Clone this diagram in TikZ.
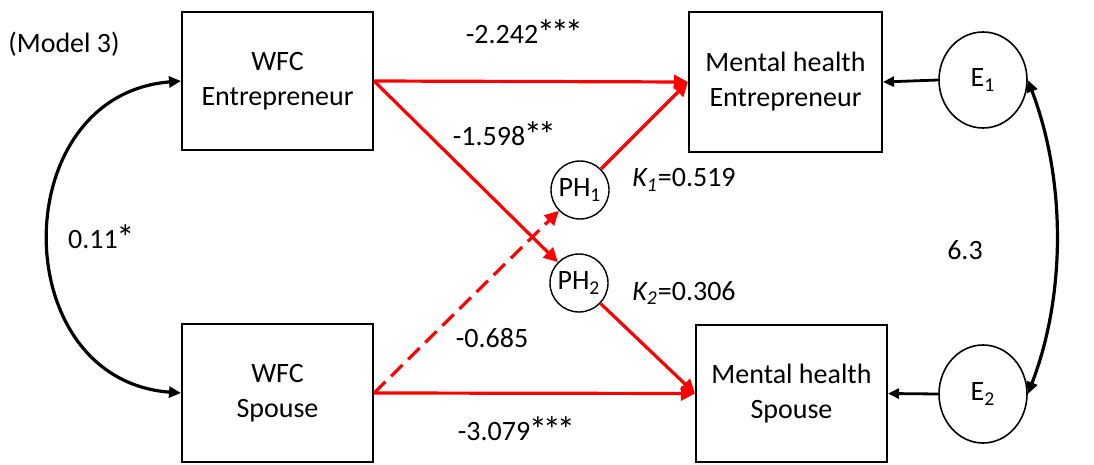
\documentclass[tikz,border=0pt]{standalone}
\usepackage{fontspec}
\usepackage{graphicx}
\setmainfont{Carlito}
\usetikzlibrary{arrows.meta,shapes.geometric}
\newcommand{\astk}{\kern-0.05em\raisebox{-0.2ex}{\scalebox{1.3}{*}}\kern-0.1em}
\begin{document}
\begin{tikzpicture}[x=0.5pt,y=-0.5pt,
  every node/.style={font=\fontsize{14}{17.5}\selectfont},
  box/.style={draw, line width=1pt, minimum width=95.5pt, minimum height=69pt, align=center, inner sep=0pt},
  errc/.style={draw, ellipse, line width=0.8pt, minimum width=44pt, minimum height=48pt, inner sep=0pt},
  phc/.style={draw, circle, line width=0.7pt, minimum size=29pt, inner sep=0pt},
  redarr/.style={draw=red, line width=1.6pt, -{Triangle[length=7pt,width=7pt]}},
  blkarr/.style={draw=black, line width=1.4pt, -{Triangle[length=5.5pt,width=5pt]}},
  curv/.style={draw=black, line width=1.6pt, {Triangle[length=6pt,width=5.5pt]}-{Triangle[length=6pt,width=5.5pt]}},
  lbl/.style={inner sep=0pt}
]
\useasboundingbox (0,0) rectangle (1094,465);
\node[box] (wfce) at (277.5,81) {WFC\\Entrepreneur};
\node[box] (wfcs) at (277.5,393) {WFC\\Spouse};
\node[box, minimum width=96.5pt, minimum height=70pt] (mhe) at (785.5,82) {Mental health\\Entrepreneur};
\node[box, minimum height=68.5pt] (mhs) at (791.5,393.5) {Mental health\\Spouse};
\node[errc] (e1) at (983,80) {E\textsubscript{1}};
\node[errc, minimum height=49pt] (e2) at (983,394) {E\textsubscript{2}};
\node[phc] (ph1) at (580,190) {PH\textsubscript{1}};
\node[phc] (ph2) at (579,283) {PH\textsubscript{2}};

\path[redarr] (wfce.east) -- (mhe.west);
\path[redarr] (wfce.east) -- (ph2);
\path[redarr] (ph1) -- (mhe.west);
\path[redarr] (wfcs.east) -- (mhs.west);
\path[redarr, dash pattern=on 8pt off 4pt] (wfcs.east) -- (ph1);
\path[redarr] (ph2) -- (mhs.west);

\path[blkarr] (e1.west) -- (mhe.east);
\path[blkarr] (e2.west) -- (mhs.east);

\path[curv] (wfce.west) .. controls (5,95) and (5,380) .. (wfcs.west);
\path[curv] (e1.east) .. controls (1066,180) and (1066,295) .. (e2.east);

\node[lbl] (m3) at (64,44) {(Model 3)};
\node[lbl] (l1) at (523,33) {-2.242\astk\astk\astk};
\node[lbl] (l2) at (503,135) {-1.598\astk\astk};
\node[lbl, anchor=west] (k1) at (632,180) {\textit{K\textsubscript{1}}=0.519};
\node[lbl] (l3) at (492,338) {-0.685};
\node[lbl] (l4) at (515,430) {-3.079\astk\astk\astk};
\node[lbl, anchor=west] (k2) at (632,293) {\textit{K\textsubscript{2}}=0.306};
\node[lbl] (l5) at (965,250) {6.3};
\node[lbl] (l6) at (100,238) {0.11\astk};
\end{tikzpicture}
\end{document}
